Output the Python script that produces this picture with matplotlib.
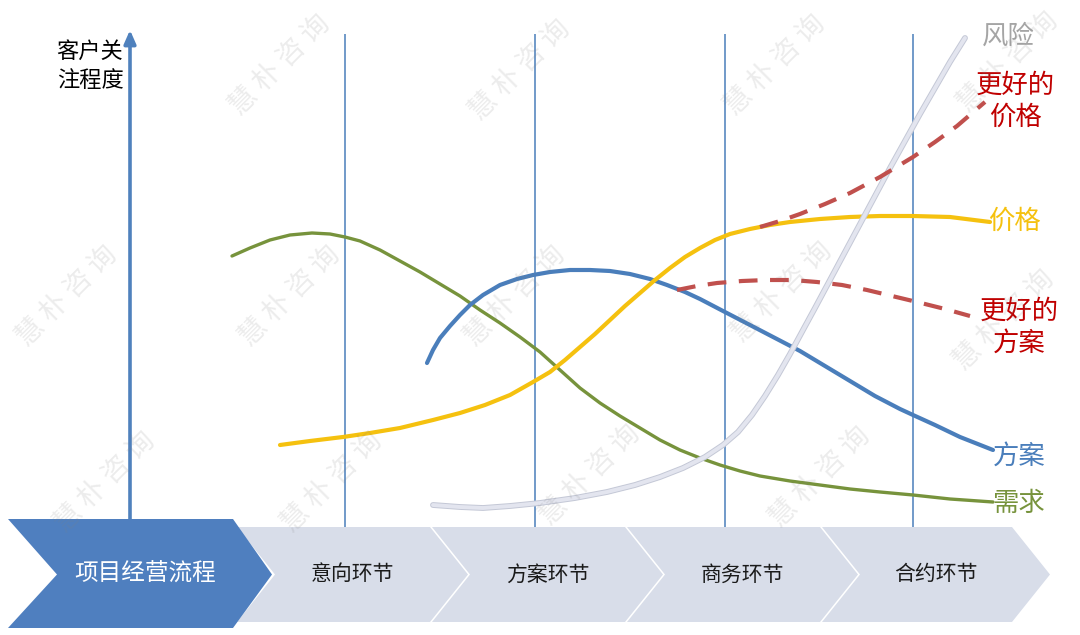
import matplotlib.pyplot as plt
import matplotlib.patheffects as pe
from matplotlib.patches import Polygon

plt.rcParams['font.family'] = ['Noto Sans CJK SC', 'DejaVu Sans']

# canvas units are pixels of the 1080x635 picture, y grows downward
# curves (x, y)
need_x = [232, 250, 270, 290, 312, 330, 345, 360, 380, 400, 420, 440, 460, 480, 500, 520, 540, 560,
          580, 600, 620, 640, 660, 680, 700, 720, 740, 760, 790, 820, 850, 880, 913, 950, 993]
need_y = [256, 248, 240, 235, 233, 234, 237, 241, 250, 261, 272, 284, 296, 310, 323, 337, 352, 370,
          388, 403, 416, 428, 440, 450, 458, 465, 471, 476, 481, 485, 489, 492, 495, 499, 502]

plan_x = [427, 433, 440, 450, 460, 470, 483, 500, 517, 533, 550, 570, 590, 610, 630, 650, 667, 685,
          700, 723, 750, 775, 800, 825, 850, 875, 900, 913, 935, 960, 993]
plan_y = [363, 350, 338, 326, 315, 305, 295, 285, 279, 275, 272, 270, 270, 271, 274, 279, 285, 292,
          299, 311, 325, 338, 351, 366, 381, 396, 409, 415, 425, 437, 450]

price_x = [280, 310, 343, 370, 400, 433, 460, 485, 510, 533, 550, 565, 580, 595, 610, 625, 640, 655,
           670, 685, 700, 715, 730, 750, 770, 790, 820, 850, 880, 913, 950, 990]
price_y = [445, 441, 437, 433, 428, 420, 413, 405, 395, 382, 372, 360, 347, 334, 320, 306, 293, 280,
           268, 257, 248, 240, 234, 229, 225, 222, 219, 217, 216, 216, 217, 222]

risk_x = [433, 460, 483, 510, 540, 575, 607, 635, 660, 683, 705, 723, 738, 752, 765, 778, 790, 803,
          815, 830, 845, 860, 875, 890, 905, 920, 935, 950, 965]
risk_y = [505, 507, 508, 506, 503, 498, 492, 485, 477, 468, 457, 445, 432, 415, 396, 375, 354, 330,
          308, 280, 252, 224, 196, 168, 141, 114, 88, 62, 38]

better_price_x = [760, 780, 800, 825, 850, 880, 913, 935, 957, 985]
better_price_y = [227, 221, 214, 204, 193, 177, 157, 142, 126, 102]

better_plan_x = [677, 697, 717, 742, 767, 792, 817, 842, 867, 892, 917, 945, 970]
better_plan_y = [290, 286, 283, 281, 280, 280, 282, 285, 290, 296, 302, 309, 316]

# process stages along the bottom
stages = ['意向环节', '方案环节', '商务环节', '合约环节']
stage_left = [237, 432, 627, 822]
stage_right = [430, 625, 820, 1012]
stage_lines = [345, 535, 725, 913]

watermarks = [(280, 65), (520, 70), (775, 65), (1008, 62),
              (67, 296), (290, 296), (515, 296), (782, 292), (1004, 320),
              (105, 482), (332, 482), (590, 475), (820, 477)]

fig = plt.figure(figsize=(10.8, 6.35), dpi=100)
ax = fig.add_axes([0, 0, 1, 1])
ax.set_xlim(0, 1080)
ax.set_ylim(635, 0)
ax.axis('off')

# chevrons
depth = 38
top, bot = 527, 622
mid = (top + bot) / 2
for name, l, r in zip(stages, stage_left, stage_right):
    pts = [(l, top), (r, top), (r + depth, mid), (r, bot), (l, bot), (l + depth, mid)]
    ax.add_patch(Polygon(pts, closed=True, fc='#d8dde9', ec='none', zorder=2))
    ax.text((l + depth + r) / 2, mid, name, ha='center', va='center',
            fontsize=15, color='#1a1a1a', zorder=3)

pts = [(8, 519), (233, 519), (272, mid), (233, 628), (8, 628), (57, mid)]
ax.add_patch(Polygon(pts, closed=True, fc='#4f7fbf', ec='none', zorder=4))
ax.text(145, mid, '项目经营流程', ha='center', va='center', fontsize=17,
        color='white', zorder=5)

# stage separators
ax.vlines(stage_lines, 34, top, color='#4a7ebb', lw=1.1, zorder=1)

# y axis arrow
ax.annotate('', xy=(130, 30), xytext=(130, 522),
            arrowprops=dict(arrowstyle='-|>,head_length=0.8,head_width=0.35',
                            lw=2.6, color='#4f81bd', shrinkA=0, shrinkB=0),
            zorder=1)
ax.text(90, 66, '客户关\n注程度', ha='center', va='center', fontsize=16,
        linespacing=1.3, color='black')

# curves
ax.plot(need_x, need_y, color='#77933c', lw=2.4, solid_capstyle='round', zorder=3)
ax.plot(plan_x, plan_y, color='#4a7ebb', lw=3.0, solid_capstyle='round', zorder=3)
ax.plot(price_x, price_y, color='#f5c10f', lw=3.0, solid_capstyle='round', zorder=3)
ax.plot(risk_x, risk_y, color='#e3e5ef', lw=2.8, solid_capstyle='round', zorder=3,
        path_effects=[pe.Stroke(linewidth=4.2, foreground='#c4c8d6'), pe.Normal()])
ax.plot(better_price_x, better_price_y, color='#c0504d', lw=3.0, dashes=(4.5, 3), zorder=3)
ax.plot(better_plan_x, better_plan_y, color='#c0504d', lw=3.0, dashes=(4.5, 3), zorder=3)

# curve labels
ax.text(1008, 36, '风险', ha='center', va='center', fontsize=19, color='#a5a5a5')
ax.text(1015, 101, '更好的\n价格', ha='center', va='center', fontsize=19,
        linespacing=1.25, color='#c00000')
ax.text(1014, 221, '价格', ha='center', va='center', fontsize=19, color='#f5c10f')
ax.text(1019, 327, '更好的\n方案', ha='center', va='center', fontsize=19,
        linespacing=1.25, color='#c00000')
ax.text(1019, 456, '方案', ha='center', va='center', fontsize=19, color='#4a7ebb')
ax.text(1019, 503, '需求', ha='center', va='center', fontsize=19, color='#77933c')

# watermark
for wx, wy in watermarks:
    ax.text(wx, wy, '慧 朴 咨 询', ha='center', va='center', rotation=45,
            fontsize=20, color='#808080', alpha=0.15, zorder=6)

fig.savefig('out.png', dpi=100)
